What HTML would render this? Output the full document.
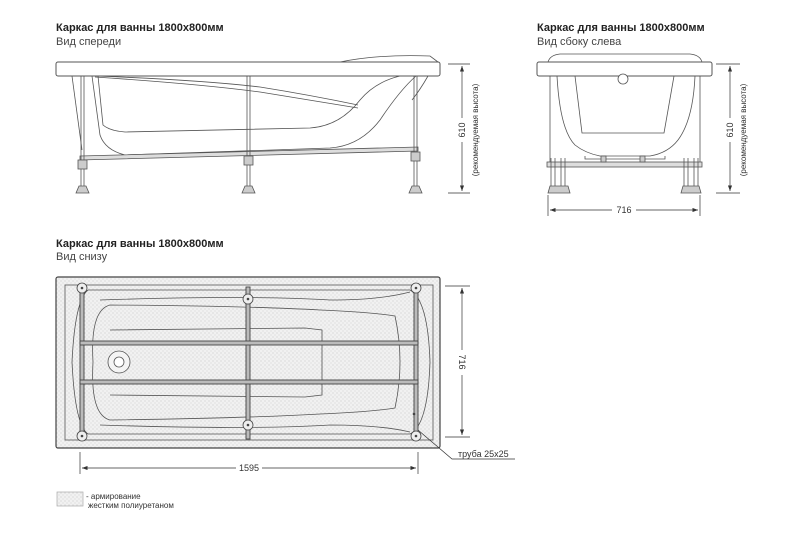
<!DOCTYPE html>
<html><head><meta charset="utf-8"><style>
html,body{margin:0;padding:0;background:#fff}
svg{display:block}
text{font-family:"Liberation Sans",sans-serif;fill:#222}
.t{font-size:11px;font-weight:bold}
.s{font-size:11px;fill:#444}
.d{font-size:9px;fill:#333}
</style></head><body>
<svg width="800" height="533" viewBox="0 0 800 533" xmlns="http://www.w3.org/2000/svg">
<defs>
<pattern id="st" width="4" height="4" patternUnits="userSpaceOnUse">
<rect width="4" height="4" fill="#f1f1f1"/><circle cx="1" cy="1" r="0.6" fill="#ccc"/><circle cx="3" cy="3" r="0.6" fill="#d6d6d6"/>
</pattern>
<marker id="ar" markerWidth="8" markerHeight="6" refX="8" refY="3" orient="auto"><path d="M0,0 L8,3 L0,6z" fill="#333"/></marker>
</defs>

<text class="t" x="56" y="31">Каркас для ванны 1800x800мм</text>
<text class="s" x="56" y="45">Вид спереди</text>
<text class="t" x="537" y="31">Каркас для ванны 1800x800мм</text>
<text class="s" x="537" y="45">Вид сбоку слева</text>
<text class="t" x="56" y="247">Каркас для ванны 1800x800мм</text>
<text class="s" x="56" y="260">Вид снизу</text>

<!-- FRONT VIEW -->
<g stroke="#555" fill="none" stroke-width="0.8">
<path d="M340,62 Q380,54 430,56 L438,62" fill="#fff"/>
<rect x="56" y="62" width="384" height="14" rx="2" fill="#fff" stroke-width="1"/>
<path d="M92,76 L100,135 Q105,150 125,155 L330,148 Q360,146 380,120 Q400,90 416,76"/>
<path d="M98,76 L103,125 Q110,131 125,132 L310,128 Q340,126 360,100 Q375,82 400,76"/>
<path d="M95,76 Q200,80 260,87 Q310,95 358,105"/>
<path d="M95,77 Q200,84 260,92 Q310,100 358,108"/>
<path d="M72,76 L82,150"/>
<path d="M428,76 Q420,90 412,100"/>
<path d="M80,156 L418,147 L418,151 L80,160 Z" fill="#ddd"/>
<line x1="81" y1="76" x2="81" y2="193"/><line x1="84" y1="76" x2="84" y2="193"/>
<line x1="247" y1="76" x2="247" y2="193"/><line x1="250" y1="76" x2="250" y2="193"/>
<line x1="414" y1="76" x2="414" y2="193"/><line x1="417" y1="76" x2="417" y2="193"/>
<rect x="78" y="160" width="9" height="9" fill="#ccc"/>
<rect x="244" y="156" width="9" height="9" fill="#ccc"/>
<rect x="411" y="152" width="9" height="9" fill="#ccc"/>
<path d="M76,193 L79,186 L86,186 L89,193Z" fill="#ccc"/>
<path d="M242,193 L245,186 L252,186 L255,193Z" fill="#ccc"/>
<path d="M409,193 L412,186 L419,186 L422,193Z" fill="#ccc"/>
</g>
<g stroke="#333" stroke-width="0.7">
<line x1="448" y1="64" x2="470" y2="64"/><line x1="448" y1="193" x2="470" y2="193"/>
<line x1="462" y1="118" x2="462" y2="66" marker-end="url(#ar)"/>
<line x1="462" y1="142" x2="462" y2="191" marker-end="url(#ar)"/>
</g>
<text class="d" transform="translate(465,130) rotate(-90)" text-anchor="middle">610</text>
<text class="d" transform="translate(478,130) rotate(-90)" text-anchor="middle" style="font-size:8px">(рекомендуемая высота)</text>

<!-- SIDE VIEW -->
<g stroke="#555" fill="none" stroke-width="0.8">
<path d="M548,62 Q550,55 560,54 L690,54 Q700,55 702,62" fill="#fff"/>
<rect x="537" y="62" width="175" height="14" rx="2" fill="#fff" stroke-width="1"/>
<path d="M557,76 Q560,130 575,145 Q585,153 600,156 L650,156 Q668,153 678,140 Q693,120 695,76"/>
<path d="M575,76 L582,133 L664,133 L674,76"/>
<path d="M585,156 L585,159 L665,159 L665,156"/>
<circle cx="623" cy="79" r="5" fill="#fff"/>
<rect x="547" y="162" width="155" height="5" fill="#ddd"/>
<line x1="550" y1="76" x2="550" y2="162"/><line x1="700" y1="76" x2="700" y2="162"/>
<rect x="601" y="156" width="5" height="6" fill="#ccc"/><rect x="640" y="156" width="5" height="6" fill="#ccc"/>
<line x1="551" y1="158" x2="551" y2="193"/><line x1="555" y1="158" x2="555" y2="193"/>
<line x1="561" y1="158" x2="561" y2="193"/><line x1="565" y1="158" x2="565" y2="193"/>
<line x1="684" y1="158" x2="684" y2="193"/><line x1="688" y1="158" x2="688" y2="193"/>
<line x1="694" y1="158" x2="694" y2="193"/><line x1="698" y1="158" x2="698" y2="193"/>
<path d="M548,193 L550,186 L568,186 L570,193Z" fill="#ccc"/>
<path d="M681,193 L683,186 L699,186 L701,193Z" fill="#ccc"/>
</g>
<g stroke="#333" stroke-width="0.7">
<line x1="548" y1="195" x2="548" y2="216"/><line x1="700" y1="195" x2="700" y2="216"/>
<line x1="612" y1="210" x2="550" y2="210" marker-end="url(#ar)"/>
<line x1="636" y1="210" x2="698" y2="210" marker-end="url(#ar)"/>
<line x1="716" y1="64" x2="740" y2="64"/><line x1="716" y1="193" x2="740" y2="193"/>
<line x1="730" y1="118" x2="730" y2="66" marker-end="url(#ar)"/>
<line x1="730" y1="142" x2="730" y2="191" marker-end="url(#ar)"/>
</g>
<text class="d" x="624" y="213" text-anchor="middle">716</text>
<text class="d" transform="translate(733,130) rotate(-90)" text-anchor="middle">610</text>
<text class="d" transform="translate(746,130) rotate(-90)" text-anchor="middle" style="font-size:8px">(рекомендуемая высота)</text>

<!-- BOTTOM VIEW -->
<g stroke="#555" fill="none" stroke-width="0.8">
<rect x="56" y="277" width="384" height="171" rx="2" fill="url(#st)" stroke="#444" stroke-width="1.2"/>
<rect x="65" y="285" width="368" height="155" fill="none"/>
<path d="M88,290 Q75,300 72,362 Q75,425 88,434 L410,434 Q428,425 430,362 Q428,300 410,290 Z"/>
<path d="M110,305 Q90,310 93,362 Q90,415 110,420 Q250,418 320,414 Q370,412 395,408 Q405,362 395,316 Q370,312 320,310 Q250,306 110,305Z"/>
<path d="M110,330 L305,328 L322,330 L322,395 L305,397 L110,395"/>
<path d="M100,300 Q250,295 330,300 Q380,300 410,292"/>
<path d="M100,425 Q250,430 330,425 Q380,425 410,432"/>
<circle cx="119" cy="362" r="11" fill="#f4f4f4"/>
<circle cx="119" cy="362" r="5" fill="#fff"/>
</g>
<g stroke="#444" stroke-width="0.9" fill="#bbb">
<rect x="80" y="287" width="4" height="150"/>
<rect x="414" y="287" width="4" height="150"/>
<rect x="246" y="287" width="4" height="152"/>
<rect x="80" y="341" width="338" height="4"/>
<rect x="80" y="380" width="338" height="4"/>
</g>
<g stroke="#444" stroke-width="0.8" fill="#eee">
<circle cx="82" cy="288" r="5"/><circle cx="416" cy="288" r="5"/>
<circle cx="82" cy="436" r="5"/><circle cx="416" cy="436" r="5"/>
<circle cx="248" cy="299" r="5"/><circle cx="248" cy="425" r="5"/>
</g>
<g fill="#444"><circle cx="82" cy="288" r="1.3"/><circle cx="416" cy="288" r="1.3"/><circle cx="82" cy="436" r="1.3"/><circle cx="416" cy="436" r="1.3"/><circle cx="248" cy="299" r="1.3"/><circle cx="248" cy="425" r="1.3"/><circle cx="414" cy="414" r="1.3"/></g>
<g stroke="#333" stroke-width="0.7" fill="none">
<line x1="80" y1="452" x2="80" y2="474"/><line x1="418" y1="452" x2="418" y2="474"/>
<line x1="236" y1="468" x2="82" y2="468" marker-end="url(#ar)"/>
<line x1="262" y1="468" x2="416" y2="468" marker-end="url(#ar)"/>
<line x1="445" y1="286" x2="470" y2="286"/><line x1="445" y1="437" x2="470" y2="437"/>
<line x1="462" y1="350" x2="462" y2="288" marker-end="url(#ar)"/>
<line x1="462" y1="375" x2="462" y2="435" marker-end="url(#ar)"/>
<path d="M418,430 L452,459 L515,459"/>
</g>
<text class="d" x="249" y="471" text-anchor="middle">1595</text>
<text class="d" transform="translate(459,362) rotate(90)" text-anchor="middle">716</text>
<text class="d" x="458" y="457">труба 25x25</text>

<rect x="57" y="492" width="26" height="14" fill="url(#st)" stroke="#aaa" stroke-width="0.7"/>
<text class="d" x="86" y="499" style="font-size:8px">- армирование</text>
<text class="d" x="88" y="508" style="font-size:8px">жестким полиуретаном</text>
</svg>
</body></html>
